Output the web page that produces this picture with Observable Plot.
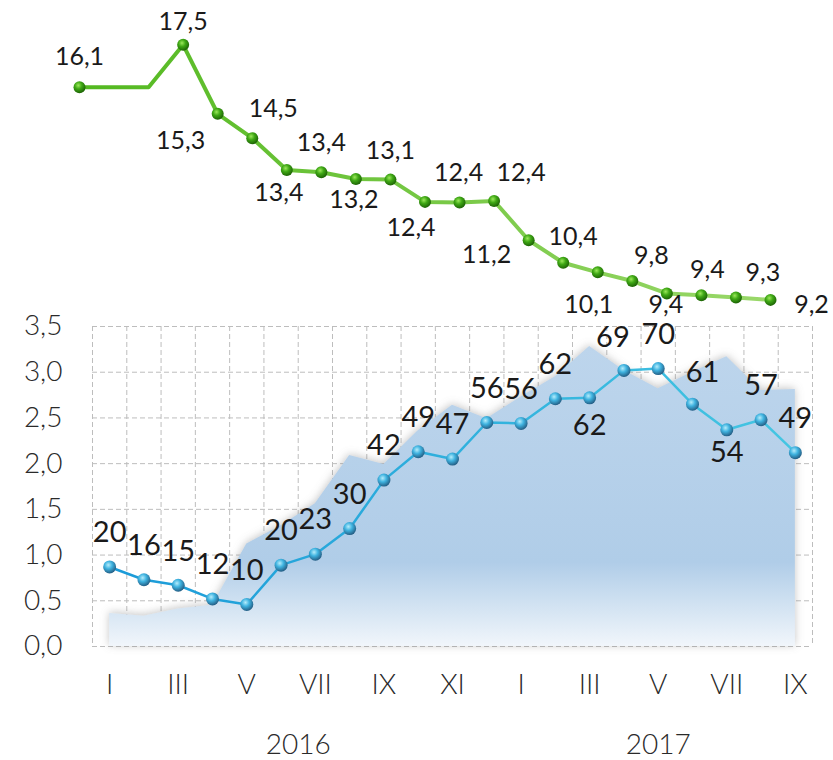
<!DOCTYPE html>
<html><head><meta charset="utf-8">
<script src="https://cdn.jsdelivr.net/npm/d3@7"></script>
<script src="https://cdn.jsdelivr.net/npm/@observablehq/plot@0.6"></script>
<style>
body{margin:0;background:#fff;}
#wrap{position:relative;width:833px;height:760px;overflow:hidden;}
#wrap svg{position:absolute;left:0;top:0;overflow:visible;}
</style></head><body><div id="wrap"></div>
<script>
// ---- data ----
const months = ["I","II","III","IV","V","VI","VII","VIII","IX","X","XI","XII","I","II","III","IV","V","VI","VII","VIII","IX"];
const monthYear = ["2016","2016","2016","2016","2016","2016","2016","2016","2016","2016","2016","2016","2017","2017","2017","2017","2017","2017","2017","2017","2017"];
const years = ["2016","2017"];
const blueValues = [0.87,0.73,0.67,0.52,0.46,0.89,1.01,1.29,1.82,2.13,2.05,2.45,2.44,2.71,2.72,3.02,3.04,2.65,2.37,2.48,2.12];
const blueLabels = [20,16,15,12,10,20,23,30,42,49,47,56,56,62,62,69,70,61,54,57,49];
const areaValues = [0.36,0.33,0.41,0.45,1.12,1.32,1.56,2.09,1.99,2.36,2.64,2.49,2.73,2.95,3.28,3.02,2.82,3.0,3.17,2.8,2.81];
const greenValues = [16.1,16.1,16.1,17.47,15.24,14.45,13.42,13.35,13.13,13.11,12.39,12.37,12.42,11.15,10.42,10.11,9.83,9.43,9.37,9.30,9.22];
const greenLabels = [16.1,null,null,17.5,15.3,14.5,13.4,13.4,13.2,13.1,12.4,12.4,12.4,11.2,10.4,10.1,9.8,9.4,9.4,9.3,9.2];

// ---- label placement (layout) ----
const blueLabelOffset = {14:[0,28],15:[-11,-33],17:[10,-31],18:[0,23]};
const greenLabelOffset = [[0,-30],null,null,[0,-23],[-37,27],[21,-29],[-8,23],[0,-29],[-2,21],[0,-29],[-14,26],[-1,-29],[27,-28],[-42,15],[10,-26],[-9,33],[19,-25],[-1,12],[6,-25],[27,-24],[41,5]];

const data = months.map((m,i)=>({i, month:m, year:monthYear[i], blue:blueValues[i], blueLabel:blueLabels[i], area:areaValues[i], green:greenValues[i], greenLabel:greenLabels[i]}));
const fmt1 = v => v.toFixed(1).replace(".", ",");

const gridStyle = {stroke:"#bdbdbd", strokeOpacity:1, strokeWidth:1, strokeDasharray:"5,3"};

const blueLabelMarks = data.map(d => {
  const o = blueLabelOffset[d.i] || [0,-34];
  return Plot.text([d], {x:"i", y:"blue", text:d=>String(d.blueLabel), dx:o[0], dy:o[1], fontSize:29, fill:"#1a1a1a"});
});

const main = Plot.plot({
  width:833, height:760,
  marginTop:326, marginBottom:114, marginLeft:92, marginRight:21,
  style:{fontFamily:"Lato, sans-serif", background:"white", color:"#2a2a2a", overflow:"visible"},
  x:{type:"linear", domain:[-0.5,20.5]},
  y:{domain:[0,3.5]},
  marks:[
    Plot.gridX(d3.range(-0.5,21,1), gridStyle),
    Plot.gridY(d3.range(0,3.51,0.5), gridStyle),
    Plot.areaY(data, {x:"i", y:"area", fill:"url(#areaGrad)"}),
    Plot.line(data, {x:"i", y:"blue", stroke:"url(#blueStroke)", strokeWidth:2.5}),
    Plot.dot(data, {x:"i", y:"blue", r:6.5, fill:"url(#blueBall)", stroke:"none"}),
    ...blueLabelMarks,
    Plot.axisY({ticks:d3.range(0,3.51,0.5), tickFormat:fmt1, tickSize:0, tickPadding:30, fontSize:28, fontWeight:300, label:null}),
    Plot.axisX({ticks:d3.range(0,21,2), tickFormat:i=>months[i], tickSize:0, tickPadding:28, fontSize:28, fontWeight:300, label:null}),
    Plot.text(years, {x:y=>d3.mean(data.filter(d=>d.year===y), d=>d.i), text:d=>d, frameAnchor:"bottom", dy:107, fontSize:28, fontWeight:300})
  ]
});

main.insertAdjacentHTML("afterbegin", `<defs>
<linearGradient id="areaGrad" x1="0" y1="0" x2="0" y2="1">
 <stop offset="0" stop-color="#bdd5ec"/>
 <stop offset="0.72" stop-color="#b0cde8"/>
 <stop offset="1" stop-color="#f1f6fb"/>
</linearGradient>
<linearGradient id="blueStroke" x1="0" y1="0" x2="1" y2="0">
 <stop offset="0" stop-color="#1a9ad8"/>
 <stop offset="1" stop-color="#45c6e2"/>
</linearGradient>
<radialGradient id="blueBall" cx="0.4" cy="0.35" r="0.65">
 <stop offset="0" stop-color="#b5ecfb"/>
 <stop offset="0.45" stop-color="#3fb3e0"/>
 <stop offset="1" stop-color="#245f86"/>
</radialGradient>
<filter id="areaShadow" x="-5%" y="-10%" width="110%" height="120%">
 <feDropShadow dx="0" dy="-1" stdDeviation="4" flood-color="#7f7f7f" flood-opacity="0.45"/>
</filter>
</defs>`);
const areaG = main.querySelector('g[aria-label="area"]');
if (areaG) areaG.setAttribute("filter","url(#areaShadow)");

const greenLabelMarks = data.filter(d=>d.greenLabel!=null).map(d => {
  const o = greenLabelOffset[d.i];
  return Plot.text([d], {x:"i", y:"green", text:d=>fmt1(d.greenLabel), dx:o[0], dy:o[1], fontSize:25, fill:"#1a1a1a"});
});

const green = Plot.plot({
  width:833, height:340,
  marginLeft:79, marginRight:63, marginTop:0, marginBottom:0,
  style:{fontFamily:"Lato, sans-serif", background:"transparent", overflow:"visible"},
  x:{type:"linear", domain:[0,20], axis:null},
  y:{domain:[9.2,17.5], range:[300,43.4], axis:null},
  marks:[
    Plot.line(data, {x:"i", y:"green", stroke:"url(#greenStroke)", strokeWidth:4}),
    Plot.dot(data.filter(d=>d.greenLabel!=null), {x:"i", y:"green", r:6, fill:"url(#greenBall)", stroke:"none"}),
    ...greenLabelMarks
  ]
});
green.insertAdjacentHTML("afterbegin", `<defs>
<linearGradient id="greenStroke" x1="0" y1="0" x2="1" y2="0">
 <stop offset="0" stop-color="#52b81f"/>
 <stop offset="1" stop-color="#9ad86a"/>
</linearGradient>
<radialGradient id="greenBall" cx="0.4" cy="0.35" r="0.65">
 <stop offset="0" stop-color="#9be85a"/>
 <stop offset="0.45" stop-color="#3fa815"/>
 <stop offset="1" stop-color="#1d6405"/>
</radialGradient>
</defs>`);

const wrap = document.getElementById("wrap");
wrap.appendChild(main);
wrap.appendChild(green);
</script>
</body></html>
